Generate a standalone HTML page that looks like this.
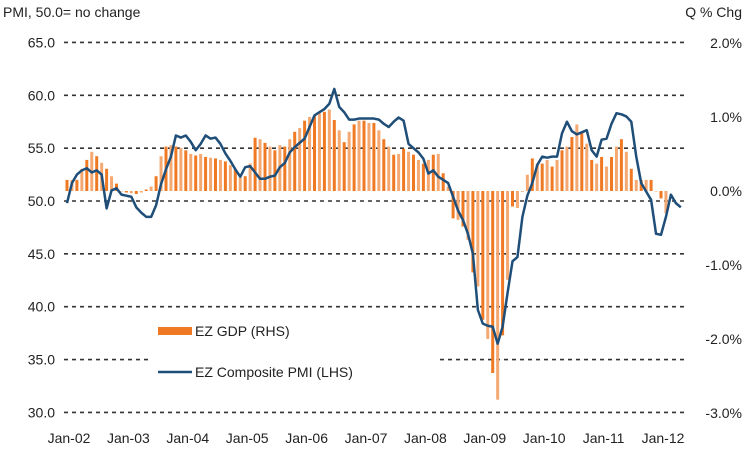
<!DOCTYPE html>
<html><head><meta charset="utf-8"><style>
body{margin:0;background:#fff;}
svg{display:block;font-family:"Liberation Sans Narrow","Liberation Sans",sans-serif;}
</style></head><body>
<svg id="chart" width="750" height="456" viewBox="0 0 750 456">
<text x="3" y="17" font-size="14" fill="#222">PMI, 50.0= no change</text>
<text x="742" y="17" font-size="14" fill="#222" text-anchor="end">Q % Chg</text>
<g id="grid"></g><g id="bars"></g><g id="line"></g><g id="labels"></g>
<g>
<rect x="150" y="318" width="290" height="70" fill="#fff"/>
<rect x="158" y="327" width="34" height="8" fill="#F07A24"/>
<text x="195" y="336" font-size="14" fill="#222">EZ GDP (RHS)</text>
<line x1="158" y1="372" x2="192" y2="372" stroke="#1F4E79" stroke-width="2.5"/>
<text x="195" y="377" font-size="14" fill="#222">EZ Composite PMI (LHS)</text>
</g>
</svg>
<script>
const pmi=[49.8,51.7,52.5,52.9,53.1,52.7,52.9,52.5,49.3,51.0,51.2,50.6,50.5,50.4,49.4,48.9,48.5,48.5,49.6,51.6,53.0,54.2,56.2,56.0,56.2,55.6,54.8,55.4,56.2,55.9,56.0,55.4,54.5,53.8,53.0,52.3,53.2,53.3,52.7,52.1,52.1,52.3,52.4,53.2,53.6,54.6,55.1,55.5,55.9,57.0,58.1,58.4,58.7,59.2,60.6,58.9,58.4,57.7,57.7,57.8,57.8,57.8,57.8,57.7,57.3,57.0,57.5,57.9,57.6,55.4,55.0,54.6,54.0,52.6,52.9,52.3,52.0,51.7,50.4,49.1,48.2,46.9,45.0,39.7,38.4,38.2,38.1,36.5,38.1,41.3,44.3,44.7,48.5,50.5,51.7,53.4,54.2,54.1,54.2,54.2,56.4,57.5,56.6,56.3,56.5,56.7,54.8,54.2,55.8,55.9,57.3,58.3,58.2,58.0,57.5,54.2,51.7,50.9,50.1,46.9,46.8,48.5,50.6,49.8,49.4];
const gdp=[0.15,0.15,0.15,0.3,0.42,0.53,0.47,0.38,0.3,0.2,0.1,0.0,-0.02,-0.03,-0.04,-0.02,0.02,0.06,0.2,0.47,0.6,0.62,0.6,0.58,0.55,0.5,0.48,0.5,0.46,0.45,0.44,0.42,0.4,0.35,0.3,0.18,0.2,0.37,0.72,0.7,0.65,0.6,0.55,0.62,0.6,0.7,0.8,0.85,0.95,1.0,1.02,1.05,1.07,1.1,0.96,0.82,0.66,0.8,0.9,0.95,0.95,0.92,0.92,0.82,0.7,0.6,0.49,0.5,0.57,0.53,0.49,0.42,0.37,0.42,0.49,0.5,0.24,0.06,-0.37,-0.39,-0.48,-0.66,-1.1,-1.29,-1.74,-2.0,-2.46,-2.82,-1.95,-1.2,-0.21,-0.23,0.0,0.22,0.44,0.37,0.37,0.42,0.33,0.42,0.55,0.6,0.73,0.9,0.78,0.64,0.42,0.37,0.46,0.33,0.46,0.6,0.7,0.53,0.3,0.15,0.15,0.15,0.15,0.0,-0.1,-0.3];
const leftTicks=[65,60,55,50,45,40,35,30];
const rightTicks=["2.0%","1.0%","0.0%","-1.0%","-2.0%","-3.0%"];
const rightVals=[2,1,0,-1,-2,-3];
const xLabels=["Jan-02","Jan-03","Jan-04","Jan-05","Jan-06","Jan-07","Jan-08","Jan-09","Jan-10","Jan-11","Jan-12"];
const NS="http://www.w3.org/2000/svg";
const yL=v=>201-(v-50)*10.57;
const yR=v=>191-v*74;
const xM=m=>67+m*4.95;
function mk(tag,attrs,parent){const e=document.createElementNS(NS,tag);for(const k in attrs)e.setAttribute(k,attrs[k]);document.getElementById(parent).appendChild(e);return e;}
leftTicks.forEach(v=>{
  const l=mk('line',{x1:64,x2:686,y1:yL(v),y2:yL(v),stroke:'#333','stroke-width':1.6,'stroke-dasharray':'4 4'},'grid');
  
  
  const t=mk('text',{x:55,y:yL(v)+5,'font-size':14,fill:'#222','text-anchor':'end'},'labels');
  t.textContent=v.toFixed(1);
  
  
});
rightVals.forEach((v,i)=>{
  const t=mk('text',{x:742,y:yR(v)+5,'font-size':14,fill:'#222','text-anchor':'end'},'labels');
  t.textContent=rightTicks[i];
  
  
});
xLabels.forEach((s,i)=>{
  const t=mk('text',{x:xM(i*12)+2,y:443,'font-size':14,fill:'#222','text-anchor':'middle'},'labels');
  t.textContent=s;
  
  
});
gdp.forEach((v,i)=>{
  const y0=yR(0),y1=yR(v);
  const r=mk('rect',{x:xM(i)-1.5,y:Math.min(y0,y1),width:3,height:Math.max(0.5,Math.abs(y1-y0)),fill:i%2?'#F5A972':'#F07A24'},'bars');
  
  
});
const p=mk('polyline',{points:pmi.map((v,i)=>xM(i)+','+yL(v)).join(' '),fill:'none',stroke:'#1F4E79','stroke-width':2.5,'stroke-linejoin':'round'},'line');


</script>
</body></html>
